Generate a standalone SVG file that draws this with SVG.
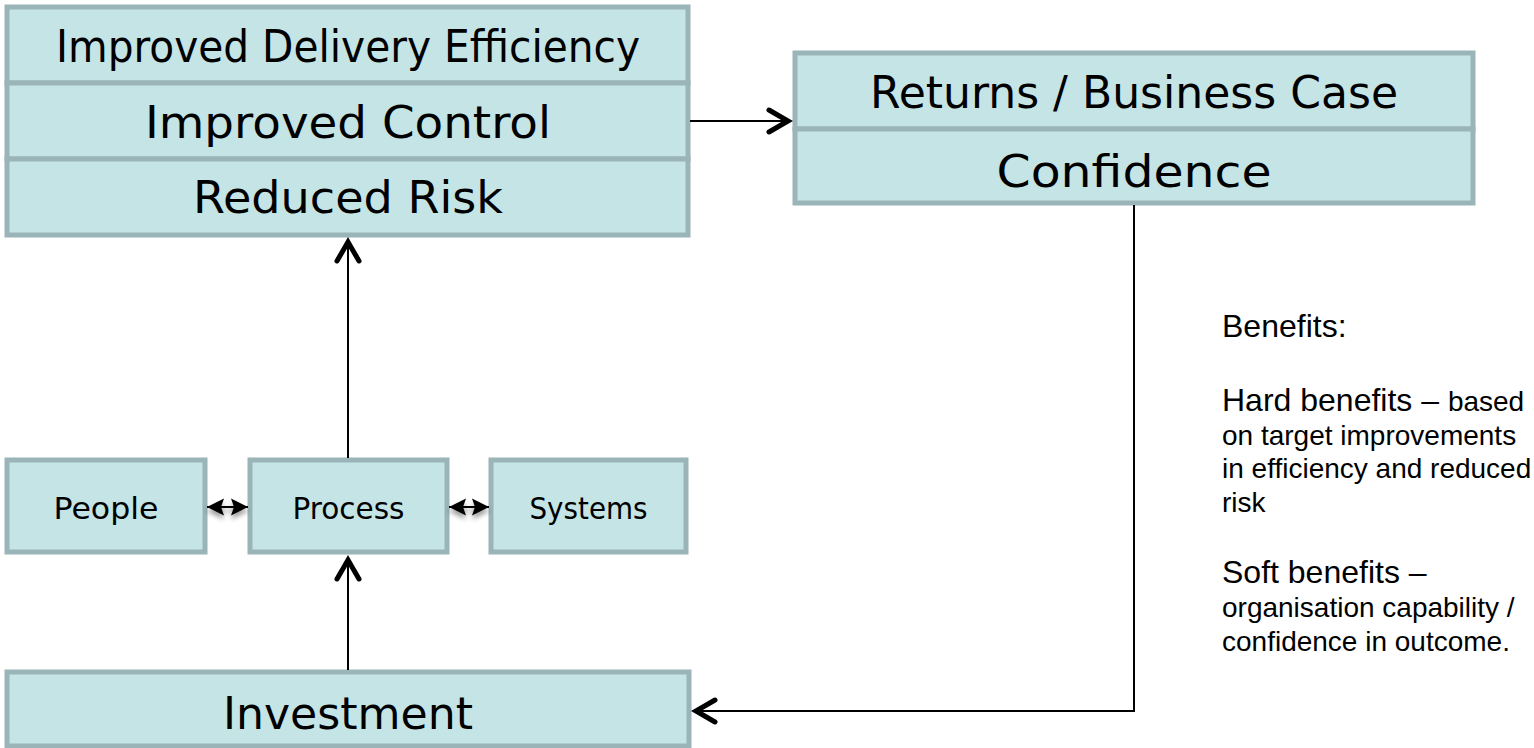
<svg xmlns="http://www.w3.org/2000/svg" width="1534" height="748" viewBox="0 0 1534 748">
  <defs>
    <style>
      .box { fill: #C4E4E6; stroke: #9AB4B7; stroke-width: 5; }
      .lbl { font-family: "DejaVu Sans", "Liberation Sans", sans-serif; fill: #000; text-anchor: middle; }
      .big { font-size: 45px; }
      .small { font-size: 31px; }
      .wire { fill: none; stroke: #000; stroke-width: 2; }
      .note { font-family: "Liberation Sans", Arial, sans-serif; fill: #000; }
      .l { font-size: 32px; }
      .s { font-size: 28px; }
    </style>
    <!-- open chevron head -->
    <marker id="chevron" markerUnits="userSpaceOnUse" viewBox="-26 -16 36 32" refX="0" refY="0" markerWidth="36" markerHeight="32" orient="auto">
      <path d="M-19,-11 L0,0 L-19,11" fill="none" stroke="#000" stroke-width="5" stroke-linecap="round"/>
    </marker>
    <!-- solid head for the two-way links -->
    <marker id="tri" markerUnits="userSpaceOnUse" viewBox="-19 -10 20 20" refX="0" refY="0" markerWidth="20" markerHeight="20" orient="auto-start-reverse">
      <path d="M0,0 L-17,-8.5 L-14,0 L-17,8.5 Z" fill="#000"/>
    </marker>
    <filter id="soft" filterUnits="userSpaceOnUse" x="180" y="480" width="340" height="60">
      <feGaussianBlur in="SourceAlpha" stdDeviation="2.5"/>
      <feOffset dy="4" result="b"/>
      <feComponentTransfer><feFuncA type="linear" slope="0.4"/></feComponentTransfer>
      <feMerge><feMergeNode/><feMergeNode in="SourceGraphic"/></feMerge>
    </filter>
  </defs>

  <rect width="1534" height="748" fill="#fff"/>

  <g id="outcomes">
    <rect class="box" x="7" y="7" width="681" height="76"/>
    <rect class="box" x="7" y="83" width="681" height="76"/>
    <rect class="box" x="7" y="159" width="681" height="76"/>
    <text class="lbl big" x="348" y="62" textLength="584" lengthAdjust="spacingAndGlyphs">Improved Delivery Efficiency</text>
    <text class="lbl big" x="348" y="138" textLength="406" lengthAdjust="spacingAndGlyphs">Improved Control</text>
    <text class="lbl big" x="348" y="213" textLength="310" lengthAdjust="spacingAndGlyphs">Reduced Risk</text>
  </g>

  <g id="returns">
    <rect class="box" x="795" y="53" width="678" height="76"/>
    <rect class="box" x="795" y="129" width="678" height="74"/>
    <text class="lbl big" x="1134" y="108" textLength="528" lengthAdjust="spacingAndGlyphs">Returns / Business Case</text>
    <text class="lbl big" x="1134" y="187" textLength="275" lengthAdjust="spacingAndGlyphs">Confidence</text>
  </g>

  <g id="people">
    <rect class="box" x="7" y="460" width="198" height="92"/>
    <text class="lbl small" x="106" y="519" textLength="105" lengthAdjust="spacingAndGlyphs">People</text>
  </g>

  <g id="process">
    <rect class="box" x="250" y="460" width="197" height="92"/>
    <text class="lbl small" x="348.5" y="519" textLength="112" lengthAdjust="spacingAndGlyphs">Process</text>
  </g>

  <g id="systems">
    <rect class="box" x="491" y="460" width="195" height="92"/>
    <text class="lbl small" x="588.5" y="519" textLength="118" lengthAdjust="spacingAndGlyphs">Systems</text>
  </g>

  <g id="investment">
    <rect class="box" x="7" y="672" width="682" height="74"/>
    <text class="lbl big" x="348" y="729" textLength="250" lengthAdjust="spacingAndGlyphs">Investment</text>
  </g>

  <g id="connectors">
    <path class="wire" d="M690,121 H788" marker-end="url(#chevron)"/>
    <path class="wire" d="M348,458 V242" marker-end="url(#chevron)"/>
    <path class="wire" d="M348,670 V560" marker-end="url(#chevron)"/>
    <path class="wire" d="M1134,205 V711 H696" marker-end="url(#chevron)"/>
    <g filter="url(#soft)">
      <path class="wire" d="M207,507 H248" marker-start="url(#tri)" marker-end="url(#tri)"/>
      <path class="wire" d="M449,507 H489" marker-start="url(#tri)" marker-end="url(#tri)"/>
    </g>
  </g>

  <g id="benefits" class="note">
    <text class="l" x="1222" y="337">Benefits:</text>
    <text x="1222" y="411"><tspan class="l">Hard benefits – </tspan><tspan class="s">based</tspan></text>
    <text class="s" x="1222" y="445">on target improvements</text>
    <text class="s" x="1222" y="478">in efficiency and reduced</text>
    <text class="s" x="1222" y="512">risk</text>
    <text class="l" x="1222" y="583">Soft benefits –</text>
    <text class="s" x="1222" y="617">organisation capability /</text>
    <text class="s" x="1222" y="651">confidence in outcome.</text>
  </g>
</svg>
